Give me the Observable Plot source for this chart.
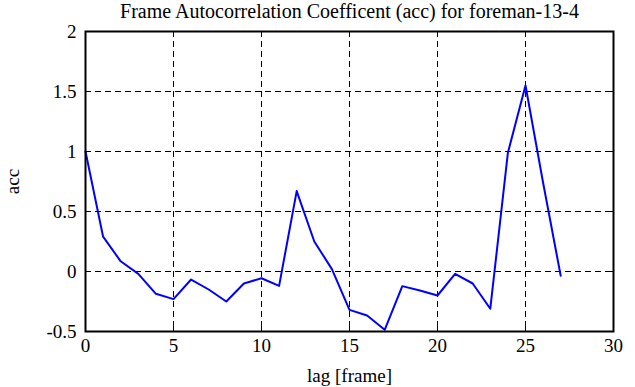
<!DOCTYPE html>
<html><head><meta charset="utf-8">
<script src="https://cdn.jsdelivr.net/npm/d3@7"></script>
<script src="https://cdn.jsdelivr.net/npm/@observablehq/plot@0.6"></script>
<style>body{margin:0;background:#fff} svg text{font-family:"Liberation Serif",serif !important;font-variant:normal !important}</style>
</head><body><div id="chart"></div>
<script>
const lags = [0,1,2,3,4,5,6,7,8,9,10,11,12,13,14,15,16,17,18,19,20,21,22,23,24,25,26,27];
const acc = [1.0,0.29,0.085,-0.02,-0.186,-0.23,-0.067,-0.15,-0.25,-0.1,-0.056,-0.12,0.67,0.25,0.02,-0.32,-0.367,-0.486,-0.122,-0.158,-0.2,-0.02,-0.1,-0.31,0.99,1.55,0.74,-0.035];
const xTicks = [0,5,10,15,20,25,30];
const yTicks = [-0.5,0,0.5,1,1.5,2];
const title = "Frame Autocorrelation Coefficent (acc) for foreman-13-4";
const data = lags.map((l,i)=>({lag:l, acc:acc[i]}));
const fmt = d => String(d);
const none = () => "";
const serif = "Liberation Serif";
const chart = Plot.plot({
  width: 635, height: 387,
  marginLeft: 85, marginRight: 22, marginTop: 31, marginBottom: 56,
  style: {fontFamily: serif, fontSize: "19px", background: "#fff", color: "#000"},
  x: {domain: [0,30]},
  y: {domain: [-0.5,2]},
  marks: [
    Plot.gridX(xTicks.slice(1,-1), {stroke: "#000", strokeOpacity: 1, strokeDasharray: "6,4"}),
    Plot.gridY(yTicks.slice(1,-1), {stroke: "#000", strokeOpacity: 1, strokeDasharray: "6,4"}),
    Plot.lineY(data, {x: "lag", y: "acc", stroke: "#0000ff", strokeWidth: 2}),
    Plot.axisX(xTicks, {anchor: "bottom", tickSize: -5, tickPadding: 12, tickFormat: fmt, fontFamily: serif, fontVariant: "normal", label: "lag [frame]", labelAnchor: "center", labelArrow: "none", labelOffset: 50}),
    Plot.axisX(xTicks, {anchor: "top", tickSize: -5, tickFormat: none, label: null}),
    Plot.axisY(yTicks, {anchor: "left", tickSize: -5, tickPadding: 14, tickFormat: fmt, fontFamily: serif, fontVariant: "normal", label: "acc", labelAnchor: "center", labelArrow: "none", labelOffset: 80}),
    Plot.axisY(yTicks, {anchor: "right", tickSize: -5, tickFormat: none, label: null}),
    Plot.frame({stroke: "#000", strokeWidth: 2}),
    Plot.text([title], {frameAnchor: "top", lineAnchor: "middle", dy: -20, fontSize: 20, fontFamily: serif})
  ]
});
document.getElementById("chart").append(chart);
</script></body></html>
